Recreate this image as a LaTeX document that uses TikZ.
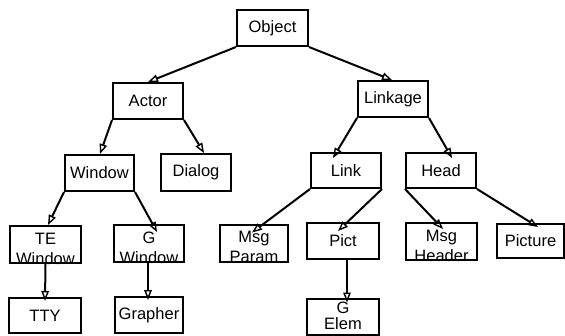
\documentclass[tikz,border=0pt]{standalone}
\usepackage{fontspec}
\setmainfont{Liberation Sans}
\usetikzlibrary{arrows.meta,calc}
\begin{document}
\begin{tikzpicture}[x=1pt,y=-1pt,
  box/.style={draw=black,line width=2pt,rectangle,inner sep=0pt,minimum width=70pt,minimum height=36pt,font=\fontsize{16.5}{20}\selectfont},
  lbl/.style={inner sep=0pt,align=center,font=\fontsize{16.5}{20}\selectfont},
  edge/.style={draw=black,line width=2pt,-{Triangle[open,length=10pt,width=7.5pt,line width=1.4pt]}}]
\useasboundingbox (0,0) rectangle (565,335);
% boxes
\node[box,minimum width=71pt] (object) at (272.5,28) {Object};
\node[box] (actor) at (148,101) {Actor};
\node[box] (linkage) at (393,99) {Linkage};
\node[box,minimum width=69pt] (window) at (99.5,173) {Window};
\node[box,minimum height=37pt] (dialog) at (196,172.5) {Dialog};
\node[box,minimum height=35pt] (link) at (346,170.5) {Link};
\node[box,minimum height=35pt] (head) at (441,170.5) {Head};
\node[box,minimum width=71pt,minimum height=37pt] (tewin) at (45.5,244.5) {};
\node[lbl] at ([yshift=-4]tewin.center) {TE\\Window};
\node[box,minimum height=37pt] (gwin) at (149,243.5) {};
\node[lbl] at ([yshift=-4]gwin.center) {G\\Window};
\node[box,minimum width=68pt,minimum height=37pt] (msgparam) at (254,243) {};
\node[lbl] at ([yshift=-4]msgparam.center) {Msg\\Param};
\node[box,minimum width=72pt] (pict) at (343,241) {Pict};
\node[box,minimum width=71pt,minimum height=37pt] (msgheader) at (441.5,241.5) {};
\node[lbl] at ([yshift=-4]msgheader.center) {Msg\\Header};
\node[box,minimum width=67pt,minimum height=34pt] (picture) at (530.5,241) {Picture};
\node[box,minimum width=72pt,minimum height=35pt] (tty) at (45,315.5) {TTY};
\node[box,minimum width=68pt] (grapher) at (149,315) {Grapher};
\node[box,minimum width=72pt] (gelem) at (343,316.5) {};
\node[lbl,font=\fontsize{16.5}{16}\selectfont] at ([yshift=0.5]gelem.center) {G\\Elem};
% connectors
\draw[edge] (object.south west) -- (actor.north);
\draw[edge] (object.south east) -- ($(linkage.north)+(-1,0)$);
\draw[edge] (actor.south west) -- ($(window.north)+(0.5,0)$);
\draw[edge] (actor.south east) -- ($(dialog.north)+(8,0)$);
\draw[edge] (window.south west) -- ($(tewin.north)+(2.5,0)$);
\draw[edge] (window.south east) -- ($(gwin.north)+(8,8)$);
\draw[edge] (linkage.south west) -- ($(link.north)+(-13,6)$);
\draw[edge] (linkage.south east) -- ($(head.north)+(11,6)$);
\draw[edge] (link.south west) -- ($(msgparam.north)+(-2,9)$);
\draw[edge] (link.south east) -- ($(pict.north)+(-5,9)$);
\draw[edge] (head.south west) -- ($(msgheader.north)+(1.5,7)$);
\draw[edge] (head.south east) -- ($(picture.north)+(7.5,4)$);
\draw[edge] (tewin.south) -- ($(tty.north)+(0,4)$);
\draw[edge] ($(gwin.south)+(-1,0)$) -- ($(grapher.north)+(-1,4)$);
\draw[edge] ($(pict.south)+(4,0)$) -- ($(gelem.north)+(4,5)$);
\end{tikzpicture}
\end{document}
